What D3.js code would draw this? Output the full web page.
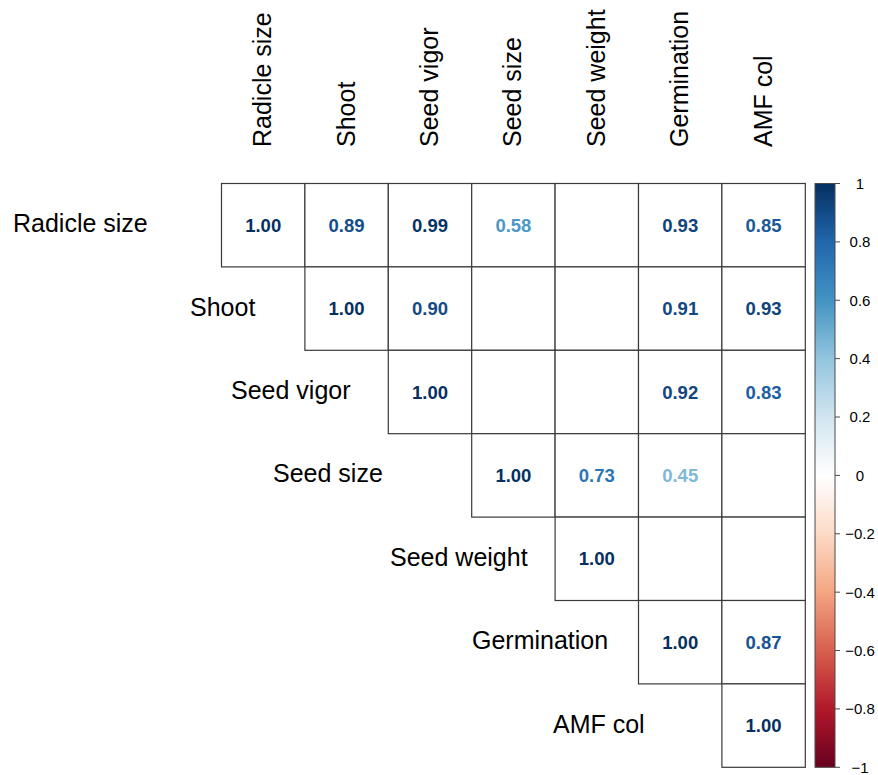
<!DOCTYPE html>
<html>
<head>
<meta charset="utf-8">
<script src="https://cdn.jsdelivr.net/npm/d3@7"></script>
<style>
  html, body { margin: 0; padding: 0; background: #fff; }
  svg { display: block; font-family: "Liberation Sans", Arial, Helvetica, sans-serif; }
</style>
</head>
<body>
<svg id="chart" width="878" height="775"></svg>
<script>
// Variables in matrix order
const variables = ["Radicle size", "Shoot", "Seed vigor", "Seed size", "Seed weight", "Germination", "AMF col"];

// Upper-triangle correlation coefficients, one row per variable starting at its diagonal.
// null marks a non-significant pair (cell left blank).
const rowRadicle     = [1.00, 0.89, 0.99, 0.58, null, 0.93, 0.85];
const rowShoot       = [1.00, 0.90, null, null, 0.91, 0.93];
const rowSeedVigor   = [1.00, null, null, 0.92, 0.83];
const rowSeedSize    = [1.00, 0.73, 0.45, null];
const rowSeedWeight  = [1.00, null, null];
const rowGermination = [1.00, 0.87];
const rowAMF         = [1.00];
const upperRows = [rowRadicle, rowShoot, rowSeedVigor, rowSeedSize, rowSeedWeight, rowGermination, rowAMF];

// Colour legend ticks
const legendTicks = [1, 0.8, 0.6, 0.4, 0.2, 0, -0.2, -0.4, -0.6, -0.8, -1];

// RdBu diverging palette (red = -1, blue = +1)
const palette = ["#67001F", "#B2182B", "#D6604D", "#F4A582", "#FDDBC7", "#FFFFFF",
                 "#D1E5F0", "#92C5DE", "#4393C3", "#2166AC", "#053061"];

// ---- layout ----
const gridX0 = 221.5, gridY0 = 183.5, cell = 83.4;
const n = variables.length;
const rowLabelStart = [13, 190, 231, 273, 390, 472, 553];

const svg = d3.select("#chart");

const x = d3.scaleBand().domain(variables).range([gridX0, gridX0 + n * cell]);
const y = d3.scaleBand().domain(variables).range([gridY0, gridY0 + n * cell]);
const color = d3.scaleLinear()
  .domain(d3.range(palette.length).map(i => -1 + i * 0.2))
  .range(palette)
  .interpolate(d3.interpolateRgb);

// Flatten the triangle into cells
const cells = [];
upperRows.forEach((row, i) => {
  row.forEach((v, k) => {
    const j = i + k;
    cells.push({ row: variables[i], col: variables[j], value: v });
  });
});

const fmt = d3.format(".2f");

const g = svg.append("g");
g.selectAll("rect.cell")
  .data(cells)
  .join("rect")
  .attr("class", "cell")
  .attr("x", d => x(d.col))
  .attr("y", d => y(d.row))
  .attr("width", x.bandwidth())
  .attr("height", y.bandwidth())
  .attr("fill", "#ffffff")
  .attr("stroke", "#3a3a3a")
  .attr("stroke-width", 1.2);

g.selectAll("text.val")
  .data(cells.filter(d => d.value !== null))
  .join("text")
  .attr("class", "val")
  .attr("x", d => x(d.col) + x.bandwidth() / 2)
  .attr("y", d => y(d.row) + y.bandwidth() / 2)
  .attr("dy", "0.36em")
  .attr("text-anchor", "middle")
  .attr("font-size", 18.5)
  .attr("font-weight", "bold")
  .attr("fill", d => color(d.value))
  .text(d => fmt(d.value));

// Column labels (rotated)
svg.append("g").selectAll("text")
  .data(variables)
  .join("text")
  .attr("transform", d => `translate(${x(d) + x.bandwidth() / 2 + 8},147) rotate(-90)`)
  .attr("text-anchor", "start")
  .attr("font-size", 25)
  .attr("fill", "#000")
  .text(d => d);

// Row labels
svg.append("g").selectAll("text")
  .data(variables)
  .join("text")
  .attr("x", (d, i) => rowLabelStart[i])
  .attr("y", d => y(d) + y.bandwidth() / 2 + 7)
  .attr("text-anchor", "start")
  .attr("font-size", 25)
  .attr("fill", "#000")
  .text(d => d);

// ---- colour legend ----
const barX = 815, barW = 20;
const ly = d3.scaleLinear().domain([1, -1]).range([gridY0, gridY0 + n * cell]);

const defs = svg.append("defs");
const grad = defs.append("linearGradient")
  .attr("id", "corrGrad")
  .attr("x1", 0).attr("y1", 0).attr("x2", 0).attr("y2", 1);
d3.range(0, 1.0001, 0.02).forEach(t => {
  grad.append("stop")
    .attr("offset", t)
    .attr("stop-color", color(1 - 2 * t));
});

svg.append("rect")
  .attr("x", barX)
  .attr("y", ly(1))
  .attr("width", barW)
  .attr("height", ly(-1) - ly(1))
  .attr("fill", "url(#corrGrad)")
  .attr("stroke", "#4a4a4a")
  .attr("stroke-width", 1);

const legAxis = svg.append("g");
legAxis.selectAll("line")
  .data(legendTicks)
  .join("line")
  .attr("x1", barX + barW)
  .attr("x2", barX + barW + 5)
  .attr("y1", d => ly(d))
  .attr("y2", d => ly(d))
  .attr("stroke", "#4a4a4a")
  .attr("stroke-width", 1);

const tickFmt = d => (d === 0 || Math.abs(d) === 1) ? String(d).replace("-", "\u2212") : d3.format(".1f")(d).replace("-", "\u2212");
legAxis.selectAll("text")
  .data(legendTicks)
  .join("text")
  .attr("x", 860)
  .attr("y", d => ly(d))
  .attr("dy", "0.36em")
  .attr("text-anchor", "middle")
  .attr("font-size", 15)
  .attr("fill", "#000")
  .text(tickFmt);
</script>
</body>
</html>
